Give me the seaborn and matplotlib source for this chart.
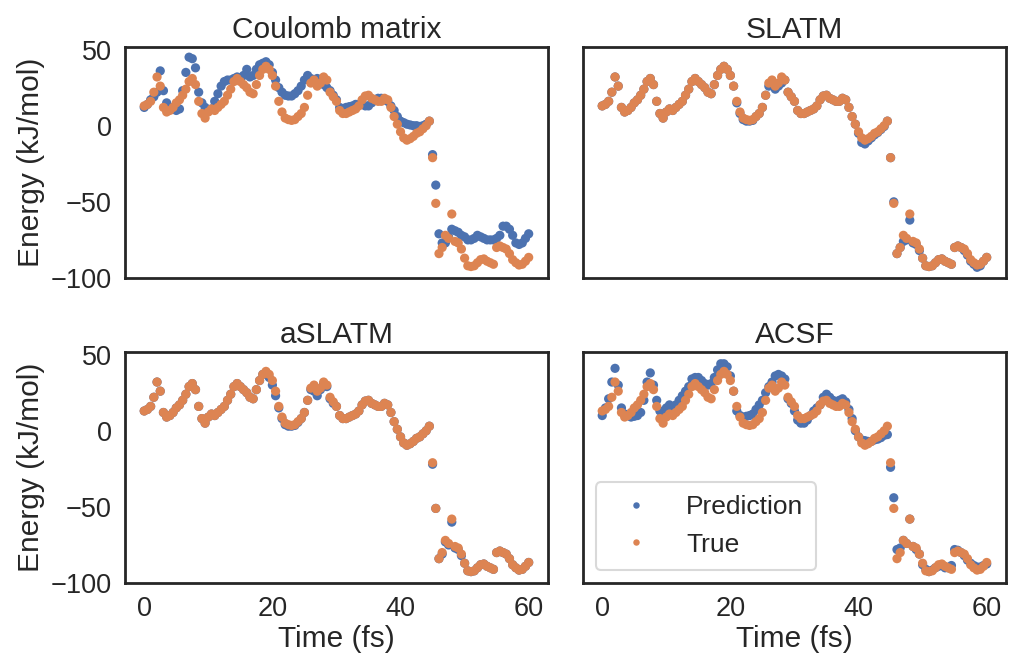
import numpy as np
import pandas as pd
import matplotlib
matplotlib.use("Agg")
import matplotlib.pyplot as plt
import seaborn as sns

# ---------------- data ----------------
methods = ["Coulomb matrix", "SLATM", "aSLATM", "ACSF"]
time_fs = np.arange(0, 60.5, 0.5)

true_energy = [
    13, 14, 16, 22, 32, 26, 12, 9, 10, 12,
    15, 17, 20, 24, 29, 31, 27, 16, 8, 5,
    9, 11, 10, 12, 14, 16, 20, 24, 29, 31,
    29, 27, 25, 22, 21, 27, 33, 37, 39, 37,
    33, 26, 16, 9, 5, 4, 3.5, 4, 6, 8,
    12, 20, 28, 30, 26, 28, 32, 30, 22, 19,
    16, 10, 8, 8, 9, 10, 11, 13, 17, 19.5,
    20, 18, 17, 16, 16, 18, 17, 12, 6, 1,
    -4, -8, -9.5, -8.5, -7, -5, -4, -2, 0, 3,
    -21, -51, -84, -80, -72, -74, -58, -76, -77, -81,
    -87, -92, -92.5, -92, -90, -88, -87.5, -89, -90, -91,
    -80, -79, -80, -81, -84, -88, -90, -91.5, -91, -89,
    -86.5]

cm_pred = [
    12, 14, 17, 19, 22, 36, 23, 15, 12, 11,
    10, 11, 23, 35, 45, 44, 38, 22, 15, 12,
    10, 11, 16, 21, 26, 29, 30, 30, 31, 32,
    31, 33, 37, 32, 33, 37, 40, 41, 42, 40,
    35, 30, 25, 22, 20, 19.5, 19.5, 21, 23, 26,
    30, 33, 31, 30, 31, 29, 27, 25, 23, 20,
    17, 12, 11, 12, 12.5, 13, 14, 14, 14, 13,
    13, 15, 17, 18, 18, 17, 16, 13, 10, 6,
    3, 2, 1, 0.5, 0, 0, -0.5, 0, 1, 3,
    -19, -39, -71, -77, -77, -73, -68, -69, -70, -72,
    -73, -75, -75, -74, -72, -73, -74, -75, -75, -75,
    -74, -72, -66, -66, -68, -72, -77, -78, -77, -74,
    -71]

slatm_pred = [
    13, 14, 16, 22, 32, 26, 12, 9, 10, 12,
    15, 17, 20, 24, 29, 31, 27, 16, 8, 5,
    9, 11, 10, 12, 14, 16, 20, 24, 29, 31,
    29, 27, 25, 22, 21, 27, 33, 37, 39, 37,
    33, 26, 15, 8, 4, 3, 3, 3.5, 6, 8,
    12, 20, 26, 27, 24, 26, 28, 30, 22, 19,
    16, 10, 8, 8, 9, 10, 11, 13, 17, 19.5,
    20, 18, 17, 16, 16, 18, 17, 12, 6, 1,
    -5, -11, -12, -10, -8, -6, -4.5, -2.5, -0.5, 3,
    -21, -50, -84, -80, -76, -75, -62, -77, -78, -82,
    -87, -92, -92.5, -92, -90, -88, -87.5, -89, -90, -91,
    -80, -79, -80, -82, -85, -89, -91, -93, -92, -89,
    -86.5]

aslatm_pred = [
    13, 14, 16, 22, 32, 26, 12, 9, 10, 12,
    15, 17, 20, 24, 29, 31, 27, 16, 8, 5,
    9, 11, 10, 12, 14, 16, 20, 24, 29, 31,
    29, 27, 25, 22, 21, 27, 33, 37, 38, 35,
    30, 23, 15, 8, 4, 3, 3, 3.5, 5.5, 8,
    12, 20, 27, 26, 23, 27, 31, 29, 21, 18,
    16, 10, 8, 8, 9, 10, 11, 13, 17, 19.5,
    20, 18, 17, 16, 16, 18, 17, 12, 6, 1,
    -4, -8, -9.5, -8.5, -7, -5, -4, -2, 0, 3,
    -22, -51, -84, -81, -73, -75, -60, -77, -78, -82,
    -87, -92, -92.5, -92, -90, -88, -87.5, -89, -90, -91,
    -80, -79, -80, -81, -84, -88, -90, -91.5, -91, -89,
    -86.5]

acsf_pred = [
    10, 15, 21, 32, 41, 30, 15, 11, 10, 9,
    9.5, 10, 12, 20, 32, 38, 30, 20, 13, 12,
    15, 17, 15, 17, 20, 23, 26, 29, 34, 35,
    35, 33, 31, 30, 31, 35, 40, 44, 44, 42,
    36, 26, 13, 10, 9, 9.5, 10, 11, 14, 17,
    20, 25, 29, 32, 36, 37, 36, 34, 21, 18,
    13, 7, 5, 5, 7, 10, 13, 15, 17, 22,
    24, 22, 20, 19, 20, 21, 19, 14, 8, 0,
    -4, -6, -6.5, -7, -7, -6, -5.5, -4.5, -3, -2.5,
    -24, -44, -78, -77, -72, -74, -58, -76, -78, -81,
    -88, -91, -92.5, -91.5, -90, -89, -88.5, -90, -90, -88.5,
    -78, -78.5, -80, -82, -85, -87, -88.5, -89.5, -89.5, -88.5,
    -87.5]

predictions = {"Coulomb matrix": cm_pred, "SLATM": slatm_pred,
               "aSLATM": aslatm_pred, "ACSF": acsf_pred}

# ---------------- style ----------------
sns.set_theme(style="white", context="notebook")
plt.rcParams["font.family"] = ["Liberation Sans", "DejaVu Sans"]
plt.rcParams["axes.edgecolor"] = "#262626"
plt.rcParams["axes.linewidth"] = 2.0

palette = {"Prediction": "#4C72B0", "True": "#DD8452"}

fig, axes = plt.subplots(2, 2, figsize=(10.13, 6.62), dpi=100,
                         sharex=True, sharey=True)
fig.subplots_adjust(left=0.1234, right=0.993, top=0.9295, bottom=0.1193,
                    wspace=0.083, hspace=0.319)

for ax, m in zip(axes.flat, methods):
    df = pd.concat([
        pd.DataFrame({"Time": time_fs, "Energy": predictions[m], "kind": "Prediction"}),
        pd.DataFrame({"Time": time_fs, "Energy": true_energy, "kind": "True"}),
    ], ignore_index=True)
    sns.scatterplot(data=df, x="Time", y="Energy", hue="kind", palette=palette,
                    s=44, linewidth=0, alpha=1.0, ax=ax, legend=(m == "ACSF"))
    ax.set_title(m, fontsize=21.5)
    ax.set_xlabel("")
    ax.set_ylabel("")
    ax.tick_params(labelsize=19.5)

for ax in axes[:, 0]:
    ax.set_ylabel("Energy (kJ/mol)", fontsize=21.5)
for ax in axes[1, :]:
    ax.set_xlabel("Time (fs)", fontsize=21.5, labelpad=2)

axes[0, 0].set_xticks([0, 20, 40, 60])
axes[0, 0].set_yticks([-100, -50, 0, 50])

leg = axes[1, 1].legend(loc="lower left", fontsize=19, markerscale=0.7,
                        frameon=True, handletextpad=0.9, borderpad=0.5)
leg.get_frame().set_edgecolor("#d0d0d0")
leg.get_frame().set_linewidth(1.5)

fig.savefig("out.png", dpi=100)
